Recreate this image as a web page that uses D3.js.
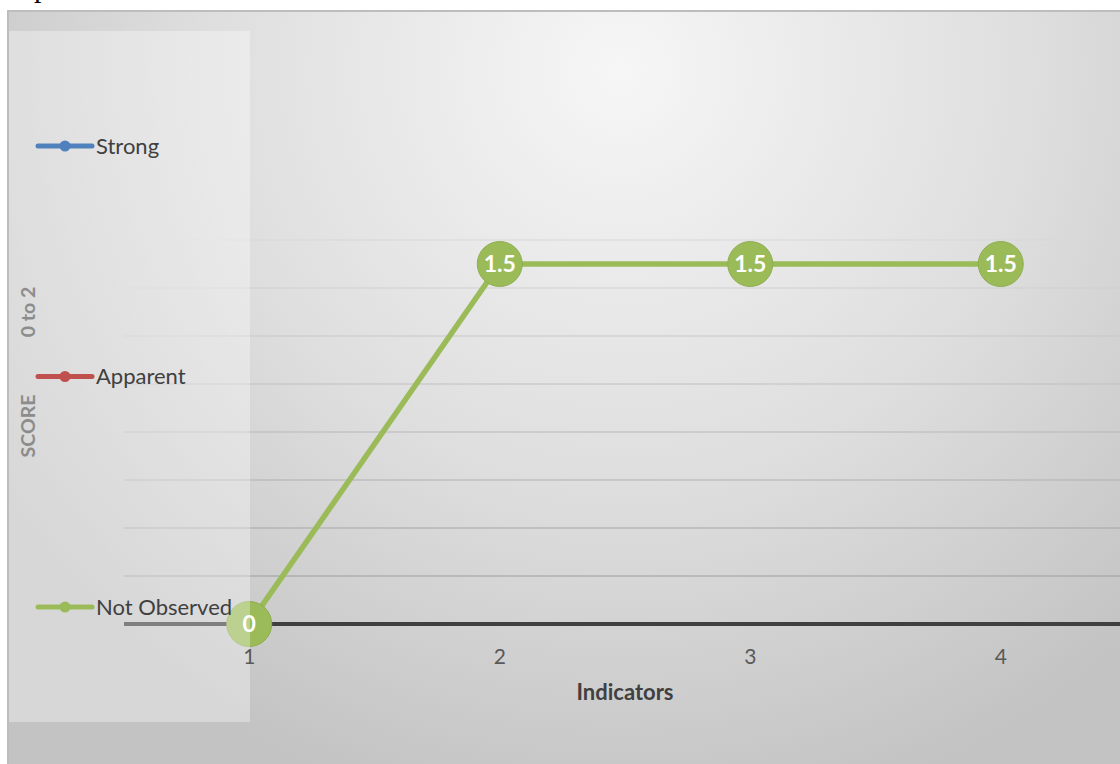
<!DOCTYPE html>
<html>
<head>
  <title>Indicators score</title>
  <script src="https://d3js.org/d3.v7.min.js"></script>
  <style>
    body { margin: 0; background: #fff; }
    svg { display: block; font-family: Lato, "Open Sans", sans-serif; }
  </style>
</head>
<body>
  <svg id="chart" width="1120" height="764"></svg>
  <script>
    // data
    const indicators = ["1", "2", "3", "4"];
    const notObserved = [0, 1.5, 1.5, 1.5];
    const legendNames = ["Strong", "Apparent", "Not Observed"];
    const legendColors = ["#4F81BD", "#C0504D", "#9BBB59"];
    const yTicks = [0, 0.2, 0.4, 0.6, 0.8, 1, 1.2, 1.4, 1.6];

    const svg = d3.select("#chart");

    // background gradient for the chart area
    const defs = svg.append("defs");
    const grad = defs.append("radialGradient")
      .attr("id", "bg")
      .attr("gradientUnits", "userSpaceOnUse")
      .attr("cx", 620).attr("cy", 70).attr("r", 760);
    grad.append("stop").attr("offset", 0).attr("stop-color", "#f6f6f6");
    grad.append("stop").attr("offset", 0.55).attr("stop-color", "#dedede");
    grad.append("stop").attr("offset", 1).attr("stop-color", "#c3c3c3");

    // cut-off glyph from the page above
    svg.append("text")
      .attr("x", 34).attr("y", -3)
      .style("font-family", "'Liberation Serif', serif")
      .style("font-size", "30px")
      .attr("fill", "#000")
      .text("p");

    svg.append("rect")
      .attr("x", 8).attr("y", 11)
      .attr("width", 1120).attr("height", 760)
      .attr("fill", "url(#bg)")
      .attr("stroke", "#bdbdbd")
      .attr("stroke-width", 2);

    const x = d3.scalePoint().domain(indicators).range([124, 1126]).padding(0.5);
    const y = d3.scaleLinear().domain([0, 1.6]).range([624, 240]);

    // gridlines, lighter toward the top
    const gridColor = d3.scaleLinear().domain([1.6, 0.2]).range(["#d8d8d8", "#9e9e9e"]);
    svg.append("g")
      .selectAll("line")
      .data(yTicks.filter(d => d > 0))
      .join("line")
      .attr("x1", 124).attr("x2", 1126)
      .attr("y1", d => y(d)).attr("y2", d => y(d))
      .attr("stroke", d => gridColor(d))
      .attr("stroke-width", 1.2);

    // category axis line
    const xAxis = svg.append("g")
      .attr("transform", `translate(0,${y(0)})`)
      .call(d3.axisBottom(x).tickSize(0).tickFormat(""));
    xAxis.select(".domain")
      .attr("d", `M124,0H1126`)
      .attr("stroke", "#404040")
      .attr("stroke-width", 4);

    // series line
    const line = d3.line()
      .x((d, i) => x(indicators[i]))
      .y(d => y(d));
    svg.append("path")
      .datum(notObserved)
      .attr("d", line)
      .attr("fill", "none")
      .attr("stroke", "#9BBB59")
      .attr("stroke-width", 5.5);

    // data label bubbles
    const lbl = svg.append("g")
      .selectAll("g")
      .data(notObserved)
      .join("g")
      .attr("transform", (d, i) => `translate(${x(indicators[i])},${y(d)})`);
    lbl.append("circle")
      .attr("r", 22.5)
      .attr("fill", "#9BBB59")
      .attr("stroke", "#8fae50")
      .attr("stroke-width", 1);
    lbl.append("text")
      .attr("text-anchor", "middle")
      .attr("dy", "0.36em")
      .attr("fill", "#fff")
      .style("font-weight", "bold")
      .style("font-size", "23px")
      .text(d => d);

    // legend panel (semi-transparent, sits over the plot)
    svg.append("rect")
      .attr("x", 9).attr("y", 31)
      .attr("width", 241).attr("height", 691)
      .attr("fill", "#fff")
      .attr("fill-opacity", 0.33);

    // tick labels
    svg.append("g")
      .selectAll("text")
      .data(indicators)
      .join("text")
      .attr("x", d => x(d))
      .attr("y", 664)
      .attr("text-anchor", "middle")
      .attr("fill", "#595959")
      .style("font-size", "21px")
      .text(d => d);

    // axis titles
    svg.append("text")
      .attr("x", 625).attr("y", 700)
      .attr("text-anchor", "middle")
      .attr("fill", "#404040")
      .style("font-weight", "bold")
      .style("font-size", "22px")
      .text("Indicators");

    svg.append("text")
      .attr("transform", "translate(35,426) rotate(-90)")
      .attr("text-anchor", "middle")
      .attr("fill", "#8c8c8c")
      .style("font-weight", "bold")
      .style("font-size", "19.5px")
      .text("SCORE");
    svg.append("text")
      .attr("transform", "translate(35,312) rotate(-90)")
      .attr("text-anchor", "middle")
      .attr("fill", "#8c8c8c")
      .style("font-weight", "bold")
      .style("font-size", "19.5px")
      .text("0 to 2");

    const legendY = d3.scalePoint().domain(legendNames).range([146, 607]);
    const leg = svg.append("g")
      .selectAll("g")
      .data(legendNames)
      .join("g")
      .attr("transform", d => `translate(0,${legendY(d)})`);
    leg.append("line")
      .attr("x1", 38).attr("x2", 92)
      .attr("stroke", (d, i) => legendColors[i])
      .attr("stroke-width", 5)
      .attr("stroke-linecap", "round");
    leg.append("circle")
      .attr("cx", 65).attr("r", 5.5)
      .attr("fill", (d, i) => legendColors[i]);
    leg.append("text")
      .attr("x", 96).attr("dy", "0.35em")
      .attr("fill", "#404040")
      .style("font-size", "22px")
      .text(d => d);
  </script>
</body>
</html>
